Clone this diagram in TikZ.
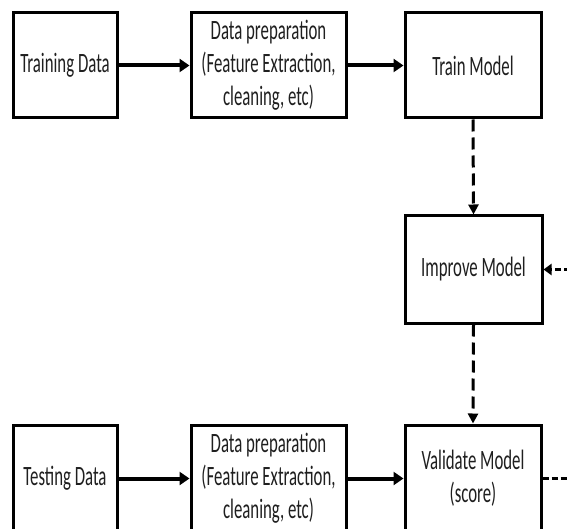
\documentclass[tikz,border=0pt]{standalone}
\usepackage{fontspec}
\setmainfont{Carlito}[FakeStretch=0.6]
\usetikzlibrary{arrows.meta}
\begin{document}
\begin{tikzpicture}[x=1pt,y=-1pt,
  box/.style={draw=black, line width=3pt, inner sep=0pt, align=center,
    font=\fontsize{28}{33}\selectfont, text=black!88},
  solidarrow/.style={line width=4pt, -{Triangle[length=10pt,width=13pt]}},
  vdash/.style={line width=3pt, dash pattern=on 12pt off 6pt,
    -{Triangle[length=10pt,width=10pt]}},
  loopline/.style={line width=3.5pt, dash pattern=on 6pt off 3pt,
    -{Triangle[length=8pt,width=11pt]}}]
\useasboundingbox (0,0) rectangle (567,529);
\clip (0,0) rectangle (567,529);
\fill[white] (0,0) rectangle (567,529);
% top row
\node[box, minimum width=104pt, minimum height=105pt] (train) at (65,65.5) {Training Data};
\node[box, minimum width=155pt, minimum height=105pt] (prep1) at (268.5,65.5) {Data preparation\\(Feature Extraction,\\cleaning, etc)};
\node[box, minimum width=136pt, minimum height=105pt] (trainm) at (473,65.5) {Train Model};
% middle
\node[box, minimum width=137pt, minimum height=107pt] (improve) at (473.5,269.5) {Improve Model};
% bottom row
\node[box, minimum width=104pt, minimum height=107pt] (test) at (65,478.5) {Testing Data};
\node[box, minimum width=155pt, minimum height=107pt] (prep2) at (268.5,478.5) {Data preparation\\(Feature Extraction,\\cleaning, etc)};
\node[box, minimum width=136pt, minimum height=107pt] (validate) at (473,478.5) {Validate Model\\(score)};
\coordinate (loopx) at (600,0);
% connectors
\draw[solidarrow] (train) -- (prep1);
\draw[solidarrow] (prep1) -- (trainm);
\draw[solidarrow] (test) -- (prep2);
\draw[solidarrow] (prep2) -- (validate);
\draw[vdash] (trainm.south) -- (improve.north);
\draw[vdash] (improve.south) -- (validate.north);
\draw[loopline] (validate.east) -- (validate.east -| loopx) |- (improve.east);
\end{tikzpicture}
\end{document}
